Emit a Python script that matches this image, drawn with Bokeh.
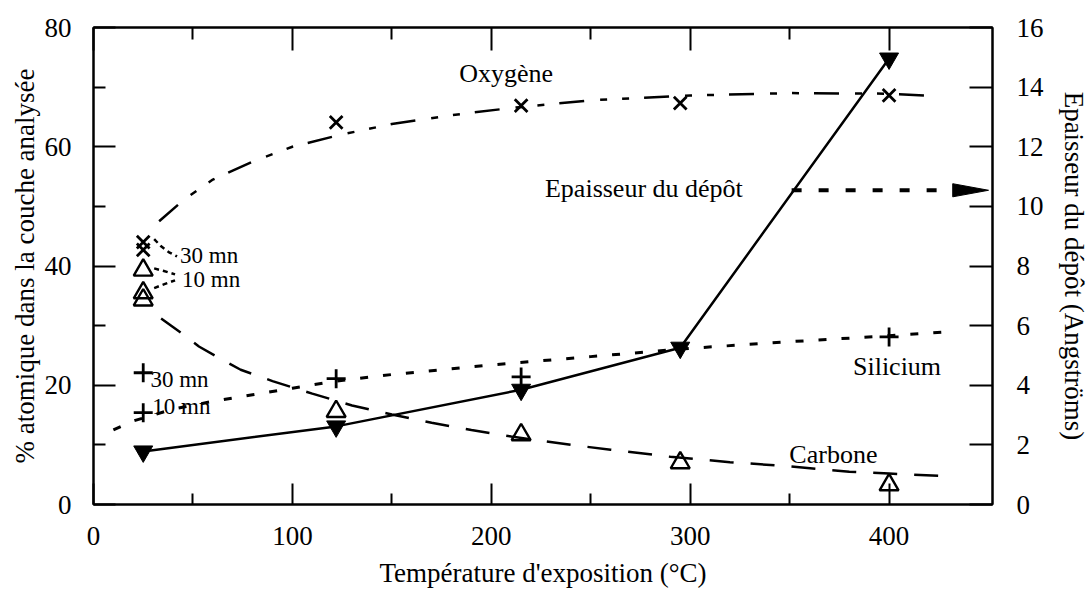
from bokeh.plotting import figure
from bokeh.models import Range1d, LinearAxis, FixedTicker, Label
from bokeh.embed import file_html
from bokeh.resources import INLINE

# ---- data ----
oxy_x = [25, 25, 122, 215, 295, 400]
oxy_y = [44.0, 42.7, 64.1, 66.9, 67.3, 68.6]
carb_x = [25, 25, 25, 122, 215, 295, 400]
carb_y = [39.3, 35.5, 34.3, 15.6, 11.7, 7.0, 3.3]
sil_x = [25, 25, 122, 215, 400]
sil_y = [22.1, 15.4, 21.1, 21.4, 28.1]
thick_x = [25, 122, 215, 295, 400]
thick_y = [1.78, 2.62, 3.85, 5.26, 14.96]

# fitted trend curves
oxy_fit_x = [33, 45, 60, 80, 100, 124, 150, 180, 210, 250, 300, 350, 400, 422]
oxy_fit_y = [47.5, 51.0, 54.5, 57.5, 60.0, 62.0, 63.8, 65.3, 66.5, 67.8, 68.6, 69.0, 68.9, 68.5]
carb_fit_x = [34, 44, 53, 62, 74, 90, 110, 130, 150, 170, 190, 210, 240, 260, 290, 320, 350, 380, 400, 425]
carb_fit_y = [31.2, 28.8, 26.5, 24.8, 22.6, 20.7, 18.6, 16.6, 15.1, 13.7, 12.5, 11.4, 10.0, 9.2, 8.0, 7.1, 6.4, 5.5, 5.2, 4.8]
sil_fit_x = [10, 20, 40, 60, 80, 100, 120, 150, 175, 200, 225, 250, 300, 350, 400, 432]
sil_fit_y = [12.5, 14.0, 16.0, 17.3, 18.4, 19.5, 20.6, 21.8, 22.6, 23.4, 24.1, 24.8, 26.2, 27.3, 28.3, 29.0]

x_ticks = [0, 100, 200, 300, 400]
x_minor = [50, 150, 250, 350]
y_ticks = [0, 20, 40, 60, 80]
y_minor = [10, 30, 50, 70]
y2_ticks = [0, 2, 4, 6, 8, 10, 12, 14, 16]

FONT = "Liberation Serif"

p = figure(width=1091, height=590, x_range=Range1d(0, 452), y_range=Range1d(0, 80),
           output_backend="svg", toolbar_location=None,
           min_border_left=93, min_border_right=98, min_border_top=27, min_border_bottom=85)
p.extra_y_ranges = {"thick": Range1d(0, 16)}
p.xgrid.visible = False
p.ygrid.visible = False
p.outline_line_color = "black"
p.outline_line_width = 2
p.background_fill_color = "white"
p.border_fill_color = "white"


def style(ax, major_in, minor_in):
    ax.axis_line_width = 2
    ax.axis_line_color = "black"
    ax.major_tick_in = major_in
    ax.major_tick_out = 0
    ax.minor_tick_in = minor_in
    ax.minor_tick_out = 0
    ax.major_tick_line_width = 2
    ax.minor_tick_line_width = 2
    ax.major_label_text_font = FONT
    ax.major_label_text_font_size = "27px"
    ax.major_label_text_color = "black"
    ax.axis_label_text_font = FONT
    ax.axis_label_text_font_size = "27px"
    ax.axis_label_text_font_style = "normal"
    ax.axis_label_text_color = "black"


xa = p.xaxis[0]
xa.ticker = FixedTicker(ticks=x_ticks, minor_ticks=x_minor)
style(xa, 21, 11)
xa.major_label_standoff = 22
xa.axis_label = "Température d'exposition (°C)"
xa.axis_label_standoff = 10

ya = p.yaxis[0]
ya.ticker = FixedTicker(ticks=y_ticks, minor_ticks=y_minor)
style(ya, 22, 12)
ya.major_label_standoff = 22
ya.axis_label = "% atomique dans la couche analysée"
ya.axis_label_standoff = 2

top = LinearAxis(ticker=FixedTicker(ticks=x_ticks, minor_ticks=x_minor))
style(top, 23, 12)
top.major_label_overrides = {t: "" for t in x_ticks}
top.major_label_text_font_size = "1px"
top.major_label_standoff = 0
p.add_layout(top, "above")

right = LinearAxis(y_range_name="thick", ticker=FixedTicker(ticks=y2_ticks, minor_ticks=[]))
style(right, 23, 0)
right.major_label_standoff = 24
right.axis_label = "Epaisseur du dépôt (Angströms)"
right.axis_label_standoff = 12
p.add_layout(right, "right")

# trend curves
p.line(oxy_fit_x, oxy_fit_y, line_color="black", line_width=2.5, line_dash="25 16 7 15 7 15")
p.line(carb_fit_x, carb_fit_y, line_color="black", line_width=2.5, line_dash="24 17")
p.line(sil_fit_x, sil_fit_y, line_color="black", line_width=3, line_dash="8 15")

# small connectors to the "30 mn / 10 mn" labels
p.line([30.5, 34, 38, 42], [44.5, 43.3, 42.3, 41.6], line_color="black", line_width=2.5, line_dash="5 4")
p.line([30.5, 35, 41], [39.6, 39.2, 38.6], line_color="black", line_width=2.5, line_dash="5 4")
p.line([30.5, 36, 41], [36.3, 37.0, 37.6], line_color="black", line_width=2.5, line_dash="5 4")

# thickness line (right axis)
p.line(thick_x, thick_y, y_range_name="thick", line_color="black", line_width=2.5)
p.scatter(thick_x, thick_y, y_range_name="thick", marker="inverted_triangle", size=19,
          fill_color="black", line_color="black")

# markers
p.scatter(oxy_x, oxy_y, marker="x", size=18, line_color="black", line_width=2.8)
p.scatter(carb_x, carb_y, marker="triangle", size=19, fill_color=None, line_color="black", line_width=2.4)
p.scatter(sil_x, sil_y, marker="cross", size=19, line_color="black", line_width=2.8)

# arrow toward the right axis
arrow_y = 10.54
p.line([351, 432], [arrow_y, arrow_y], y_range_name="thick", line_color="black",
       line_width=4, line_dash="10 17")
p.patch([432, 450, 432], [arrow_y + 0.22, arrow_y, arrow_y - 0.22], y_range_name="thick",
        fill_color="black", line_color="black")

# labels
def lab(x, y, text, align="center", size="26px"):
    p.add_layout(Label(x=x, y=y, text=text, text_align=align, text_baseline="middle",
                       text_font=FONT, text_font_size=size, text_color="black"))

lab(207.5, 72.3, "Oxygène")
lab(227, 53.0, "Epaisseur du dépôt", align="left")
lab(404, 23.1, "Silicium")
lab(372, 8.4, "Carbone")
lab(43.5, 41.8, "30 mn", align="left", size="23px")
lab(44.5, 37.7, "10 mn", align="left", size="23px")
lab(28.6, 20.9, "30 mn", align="left", size="23px")
lab(29.6, 16.4, "10 mn", align="left", size="23px")

open("out.html", "w").write(file_html(p, INLINE))
